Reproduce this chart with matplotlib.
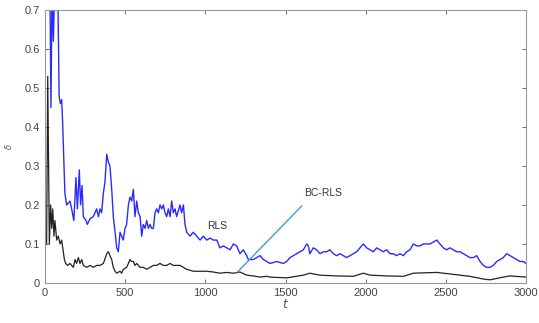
import matplotlib
matplotlib.use('Agg')
import matplotlib.pyplot as plt

plt.rcParams['font.family'] = ['Liberation Sans', 'DejaVu Sans']

# RLS curve (blue)
t_rls = [0, 31, 37, 44, 52, 60, 80, 88, 96, 104, 110, 117, 124, 135, 156, 166, 180, 193,
         202, 214, 222, 231, 239, 256, 264, 281, 301, 322, 333, 343, 353, 364, 374, 385,
         395, 405, 416, 426, 437, 447, 457, 468, 478, 488, 499, 509, 520, 530, 541, 551,
         561, 572, 582, 593, 603, 613, 624, 634, 645, 655, 665, 676, 686, 696, 707, 717,
         728, 738, 748, 759, 769, 780, 790, 800, 811, 821, 842, 852, 863, 873, 884, 904,
         925, 946, 967, 988, 1008, 1029, 1050, 1071, 1091, 1112, 1133, 1154, 1175, 1195,
         1216, 1237, 1258, 1268, 1299, 1320, 1341, 1362, 1383, 1403, 1445, 1486, 1507,
         1528, 1549, 1569, 1590, 1611, 1632, 1642, 1652, 1673, 1694, 1715, 1736, 1756,
         1777, 1798, 1819, 1840, 1860, 1881, 1902, 1923, 1944, 1964, 1985, 2006, 2027,
         2048, 2068, 2089, 2110, 2131, 2151, 2172, 2193, 2214, 2235, 2255, 2276, 2297,
         2318, 2339, 2359, 2380, 2401, 2422, 2443, 2463, 2484, 2505, 2526, 2547, 2567,
         2588, 2609, 2630, 2650, 2671, 2692, 2713, 2734, 2754, 2775, 2796, 2817, 2837,
         2858, 2879, 2900, 2921, 2941, 2962, 2983, 3000]
d_rls = [1.0, 0.75, 0.45, 0.75, 0.62, 0.75, 0.75, 0.48, 0.46, 0.47, 0.41, 0.32, 0.23, 0.20,
         0.21, 0.19, 0.16, 0.27, 0.19, 0.29, 0.20, 0.25, 0.17, 0.16, 0.15, 0.165, 0.17,
         0.19, 0.17, 0.19, 0.18, 0.23, 0.26, 0.33, 0.31, 0.30, 0.24, 0.17, 0.13, 0.09,
         0.08, 0.13, 0.12, 0.11, 0.14, 0.15, 0.20, 0.22, 0.21, 0.24, 0.17, 0.21, 0.18,
         0.17, 0.12, 0.15, 0.14, 0.16, 0.14, 0.15, 0.14, 0.14, 0.18, 0.19, 0.18, 0.20,
         0.19, 0.20, 0.18, 0.17, 0.19, 0.17, 0.21, 0.18, 0.19, 0.17, 0.20, 0.18, 0.20,
         0.15, 0.13, 0.12, 0.13, 0.12, 0.11, 0.12, 0.11, 0.115, 0.11, 0.11, 0.09, 0.095,
         0.09, 0.085, 0.10, 0.095, 0.075, 0.085, 0.07, 0.06, 0.06, 0.065, 0.07, 0.06,
         0.055, 0.05, 0.055, 0.05, 0.055, 0.065, 0.07, 0.075, 0.08, 0.085, 0.10, 0.095,
         0.075, 0.09, 0.085, 0.075, 0.08, 0.08, 0.085, 0.075, 0.07, 0.075, 0.07, 0.065,
         0.07, 0.075, 0.08, 0.09, 0.10, 0.09, 0.085, 0.08, 0.09, 0.085, 0.08, 0.085,
         0.075, 0.075, 0.07, 0.075, 0.07, 0.08, 0.085, 0.10, 0.095, 0.095, 0.10, 0.10,
         0.10, 0.105, 0.11, 0.10, 0.09, 0.085, 0.09, 0.085, 0.08, 0.08, 0.075, 0.07,
         0.065, 0.065, 0.07, 0.055, 0.045, 0.04, 0.04, 0.045, 0.055, 0.06, 0.065, 0.075,
         0.07, 0.065, 0.06, 0.055, 0.055, 0.05]

# BC-RLS curve (black)
t_bc = [0, 10, 17, 27, 35, 42, 48, 56, 62, 73, 83, 94, 104, 114, 121, 129, 141, 156, 166,
        177, 187, 197, 208, 218, 229, 239, 260, 281, 301, 322, 343, 364, 385, 395, 405,
        416, 426, 437, 447, 468, 478, 488, 509, 520, 530, 541, 551, 561, 572, 593, 613,
        634, 655, 676, 696, 717, 738, 759, 780, 800, 821, 842, 863, 884, 925, 967, 1008,
        1050, 1091, 1133, 1175, 1216, 1258, 1299, 1341, 1383, 1403, 1507, 1611, 1652,
        1715, 1819, 1923, 1985, 2027, 2131, 2235, 2297, 2443, 2547, 2650, 2734, 2775,
        2858, 2900, 3000]
d_bc = [0.10, 0.10, 0.53, 0.10, 0.20, 0.14, 0.19, 0.12, 0.16, 0.11, 0.12, 0.10, 0.11,
        0.08, 0.06, 0.05, 0.045, 0.05, 0.045, 0.04, 0.06, 0.05, 0.065, 0.05, 0.06, 0.045,
        0.04, 0.045, 0.04, 0.045, 0.045, 0.05, 0.075, 0.08, 0.07, 0.06, 0.04, 0.03, 0.025,
        0.03, 0.025, 0.035, 0.04, 0.05, 0.06, 0.055, 0.055, 0.045, 0.05, 0.04, 0.04,
        0.035, 0.04, 0.045, 0.045, 0.05, 0.045, 0.045, 0.05, 0.045, 0.045, 0.045, 0.04,
        0.035, 0.03, 0.03, 0.03, 0.028, 0.025, 0.027, 0.025, 0.028, 0.02, 0.018, 0.015,
        0.017, 0.015, 0.013, 0.02, 0.025, 0.02, 0.018, 0.017, 0.025, 0.02, 0.018, 0.017,
        0.025, 0.027, 0.022, 0.017, 0.01, 0.008, 0.015, 0.018, 0.015]

xticks = [0, 500, 1000, 1500, 2000, 2500, 3000]
yticks = [0, 0.1, 0.2, 0.3, 0.4, 0.5, 0.6, 0.7]

fig = plt.figure(figsize=(5.39, 3.23), dpi=100)
ax = fig.add_axes([0.0835, 0.124, 0.8925, 0.845])

ax.plot(t_rls, d_rls, color='#2a2aff', lw=1.0)
ax.plot(t_bc, d_bc, color='#222222', lw=0.9)

# annotation pointer
ax.plot([1200, 1600], [0.028, 0.197], color='#3a9fd8', lw=1.0)
ax.text(1073, 0.146, 'RLS', fontsize=7.5, ha='center', va='center', color='#333333')
ax.text(1734, 0.231, 'BC-RLS', fontsize=7.5, ha='center', va='center', color='#333333')

ax.set_xlim(0, 3000)
ax.set_ylim(0, 0.7)
ax.set_xticks(xticks)
ax.set_yticks(yticks)
ax.set_yticklabels(['0', '0.1', '0.2', '0.3', '0.4', '0.5', '0.6', '0.7'])
ax.tick_params(direction='in', top=True, right=True, length=3, width=0.6,
               labelsize=8, colors='#555555', labelcolor='#444444')
for s in ax.spines.values():
    s.set_color('#999999')
    s.set_linewidth(0.8)

ax.set_xlabel('$t$', fontsize=9, color='#555555', labelpad=0)
ax.set_ylabel(r'$\delta$', fontsize=6, color='#555555', labelpad=8)

fig.savefig('out.png', dpi=100)
